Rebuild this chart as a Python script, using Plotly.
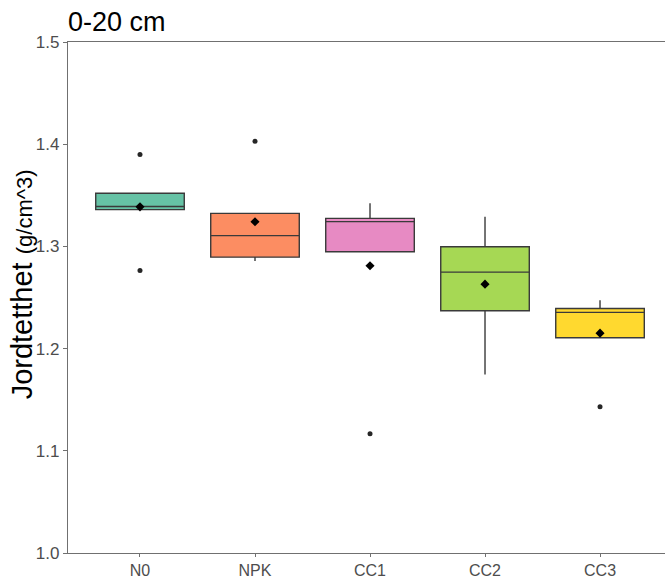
import plotly.graph_objects as go

# Soil bulk density (g/cm^3), 0-20 cm layer, five plots per treatment
categories = ["N0", "NPK", "CC1", "CC2", "CC3"]
n0 = [1.2765, 1.3360, 1.3390, 1.3520, 1.3900]
npk = [1.2856, 1.2895, 1.3105, 1.3323, 1.4028]
cc1 = [1.1168, 1.2948, 1.3242, 1.3274, 1.3421]
cc2 = [1.1746, 1.2370, 1.2748, 1.2997, 1.3291]
cc3 = [1.1430, 1.2106, 1.2354, 1.2393, 1.2474]
series = [n0, npk, cc1, cc2, cc3]

fill_colors = ["#66C2A5", "#FC8D62", "#E78AC3", "#A6D854", "#FFD92F"]
y_ticks = [1.0, 1.1, 1.2, 1.3, 1.4, 1.5]

FONT = "Liberation Sans, Arial, sans-serif"

fig = go.Figure()

for cat, vals, col in zip(categories, series, fill_colors):
    fig.add_trace(go.Box(
        x=[cat] * len(vals),
        y=vals,
        name=cat,
        quartilemethod="inclusive",
        boxpoints="outliers",
        jitter=0,
        pointpos=0,
        width=0.77,
        whiskerwidth=0,
        fillcolor=col,
        line=dict(color="#3a3a3a", width=1.4),
        marker=dict(color="#262626", size=5, symbol="circle"),
        showlegend=False,
    ))

# Group means as black diamonds
means = [sum(v) / len(v) for v in series]
fig.add_trace(go.Scatter(
    x=categories,
    y=means,
    mode="markers",
    marker=dict(symbol="diamond", size=7, color="black"),
    showlegend=False,
))

axis_line = "#707070"

fig.update_layout(
    width=665,
    height=578,
    margin=dict(l=68, r=0, t=42, b=25, autoexpand=False),
    paper_bgcolor="white",
    plot_bgcolor="white",
    boxmode="overlay",
    font=dict(family=FONT, color="#4D4D4D"),
    title=dict(
        text="0-20 cm",
        font=dict(family=FONT, size=27, color="black"),
        xref="paper", x=0, xanchor="left",
        yref="container", y=1 - 21.2 / 578, yanchor="middle",
    ),
    xaxis=dict(
        type="category",
        categoryorder="array",
        categoryarray=categories,
        range=[-0.626, 4.565],
        automargin=False,
        showgrid=False,
        zeroline=False,
        showline=True,
        linecolor=axis_line,
        linewidth=1.3,
        mirror=True,
        ticks="outside",
        ticklen=3,
        tickcolor=axis_line,
        tickwidth=1.2,
        tickfont=dict(family=FONT, size=16, color="#4D4D4D"),
    ),
    yaxis=dict(
        range=[1.0, 1.5],
        tickvals=y_ticks,
        ticktext=[f"{v:.1f}" for v in y_ticks],
        automargin=False,
        showgrid=False,
        zeroline=False,
        showline=True,
        linecolor=axis_line,
        linewidth=1.3,
        ticks="outside",
        ticklen=4,
        tickcolor=axis_line,
        tickwidth=1.2,
        tickfont=dict(family=FONT, size=17, color="#4D4D4D"),
    ),
)

# Y axis title with a smaller unit part
fig.add_annotation(
    text="Jordtetthet <span style='font-size:22px'>(g/cm^3)</span>",
    textangle=-90,
    xref="paper", yref="paper",
    x=(22 - 68) / 597, y=(553.3 - 284.5) / 511.3,
    xanchor="center", yanchor="middle",
    showarrow=False,
    font=dict(family=FONT, size=29, color="black"),
)

fig.write_html("out.html")
